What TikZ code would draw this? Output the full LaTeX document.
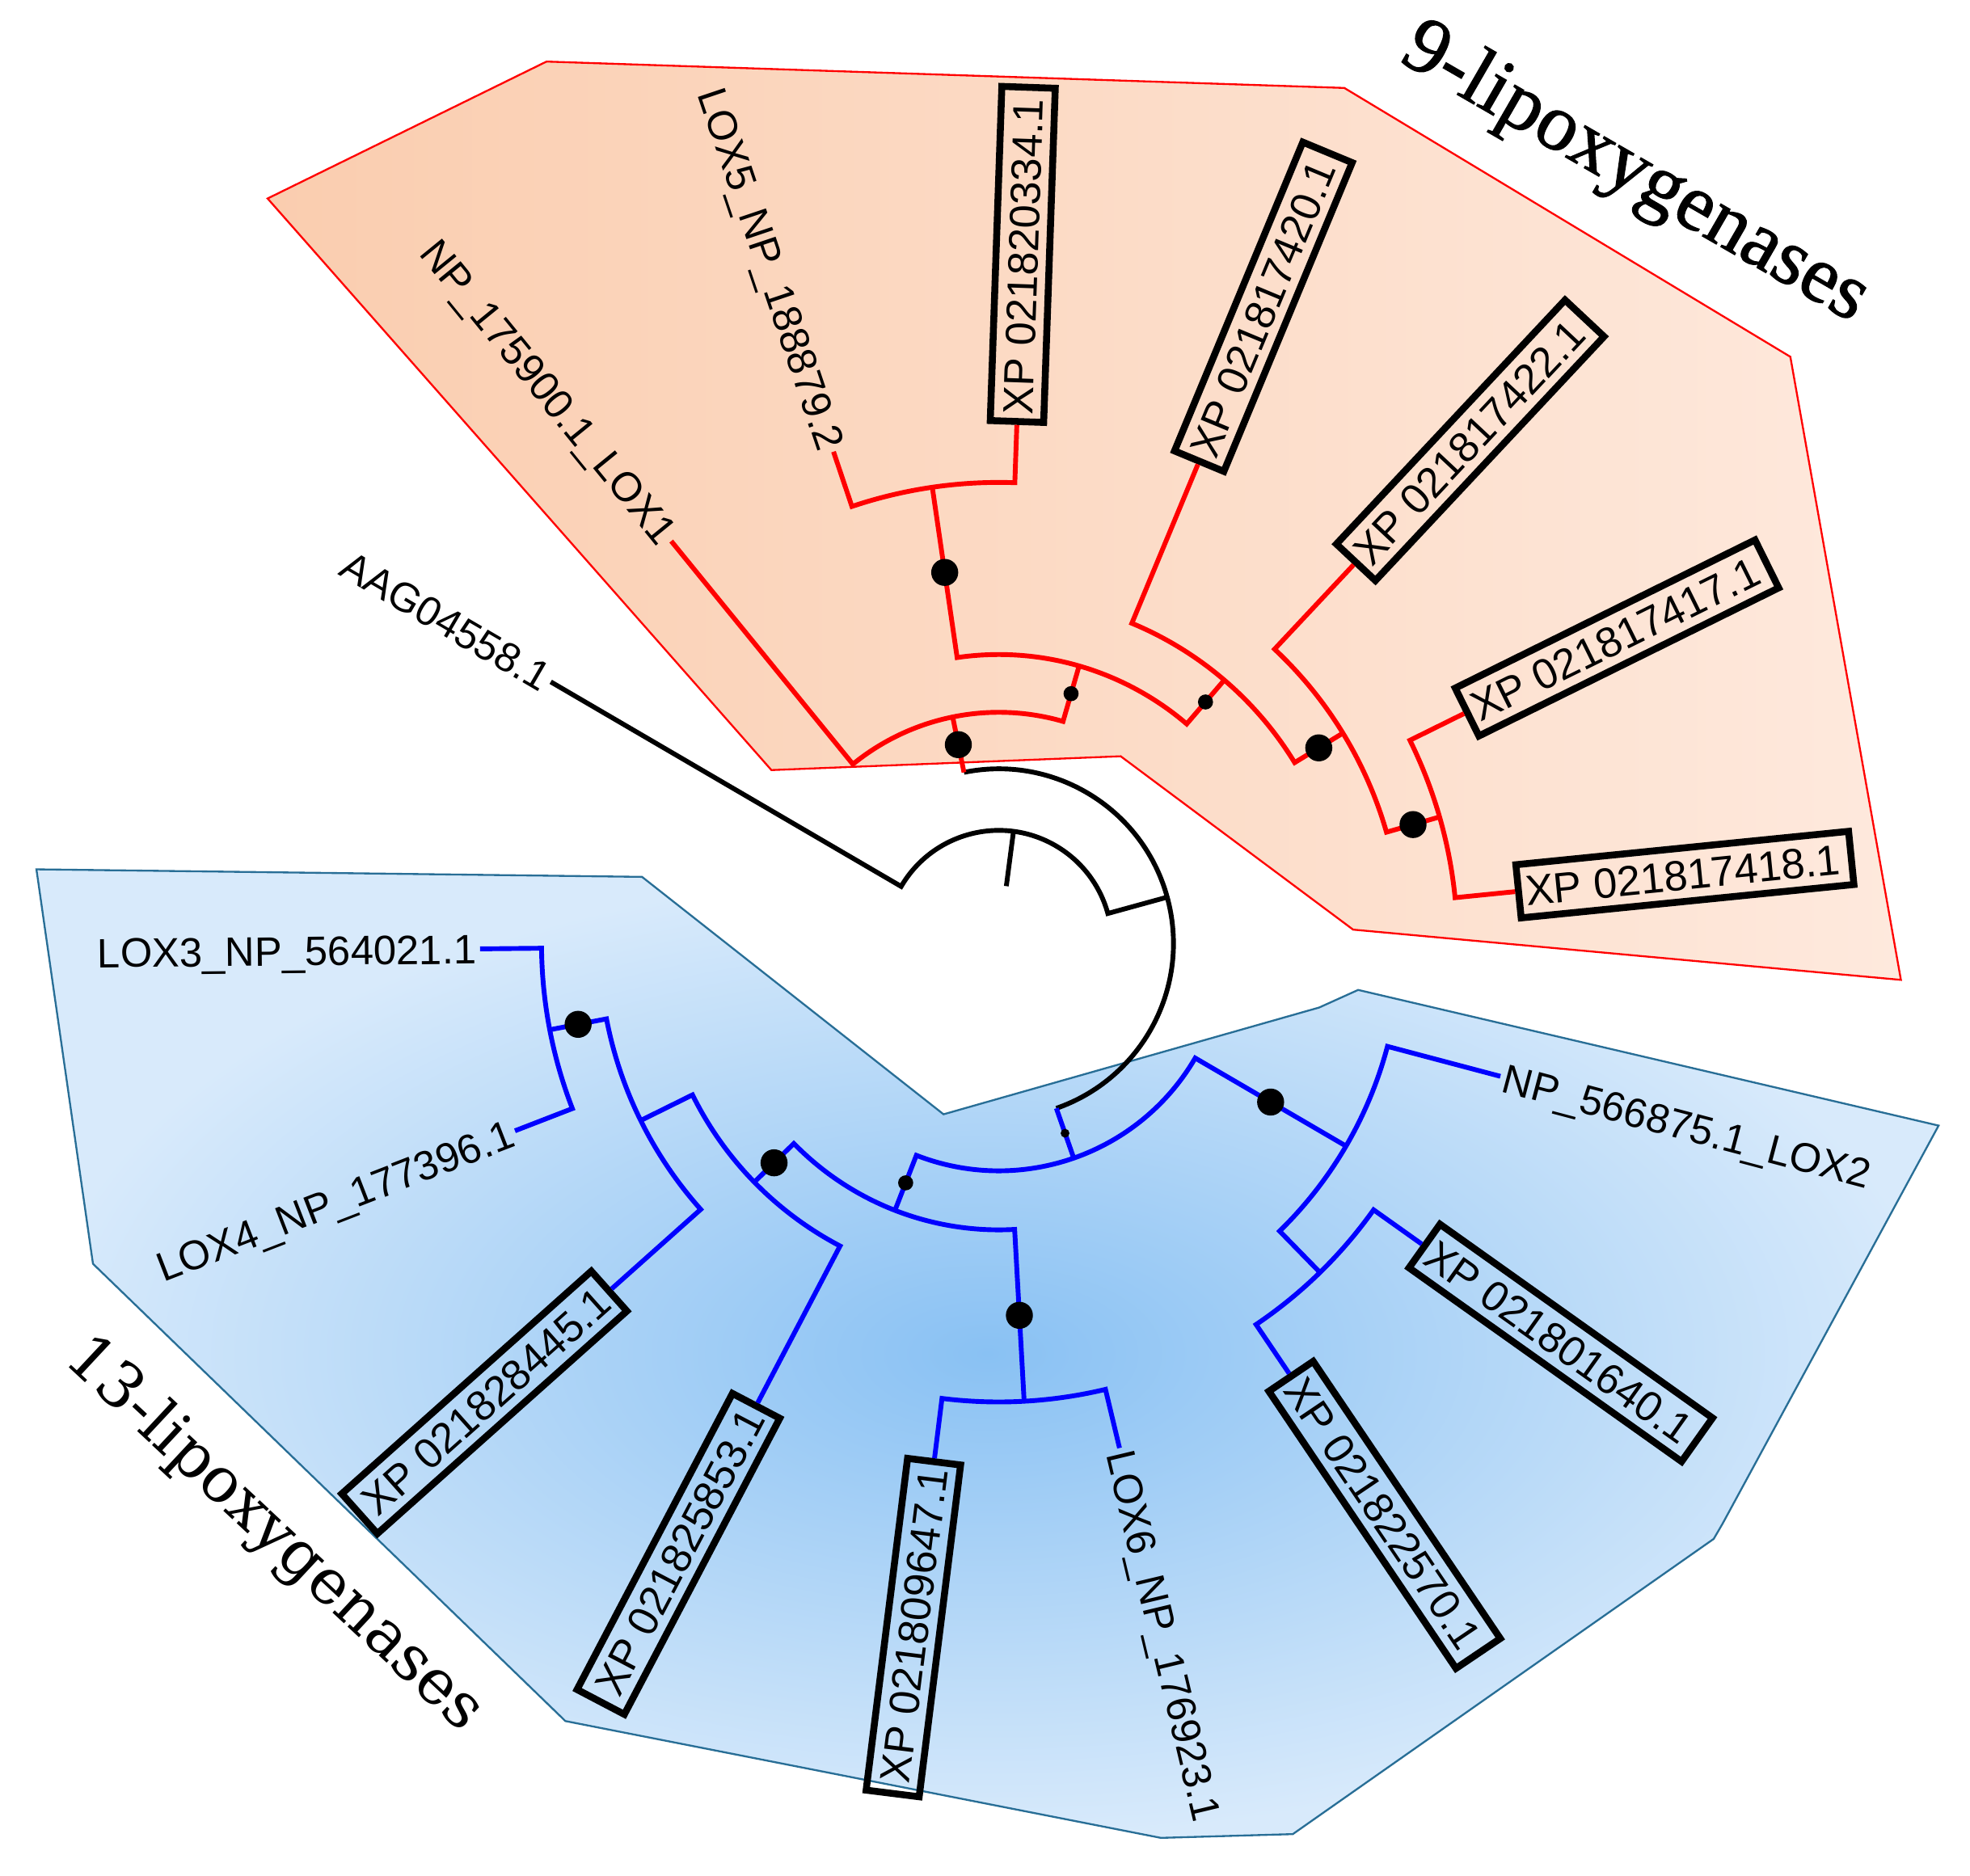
\documentclass[tikz,border=0pt]{standalone}
\usepackage{fontspec}
\newfontfamily\labfont{Liberation Sans}
\newfontfamily\tfa[FakeBold=1.2]{Liberation Serif}
\newfontfamily\tfb{DejaVu Serif}
\usetikzlibrary{calc}
\definecolor{redfillA}{RGB}{250,205,175}
\definecolor{redfillB}{RGB}{254,233,221}
\definecolor{bluein}{RGB}{137,193,243}
\definecolor{blueout}{RGB}{216,234,251}
\definecolor{blueedge}{RGB}{40,110,150}
\definecolor{treeblue}{RGB}{0,0,255}
\definecolor{treered}{RGB}{255,0,0}
\tikzset{
  br/.style={line width=0.38mm, line join=miter, line cap=butt},
  rbr/.style={br, draw=treered},
  bbr/.style={br, draw=treeblue},
  kbr/.style={br, draw=black},
  plainlab/.style={font=\labfont\fontsize{9.3}{11}\selectfont, inner xsep=0.6pt, inner ysep=0pt, text height=6.7pt, text depth=0pt, text=black},
  boxlab/.style={draw=black, line width=0.55mm, font=\labfont\fontsize{9.6}{11}\selectfont, inner xsep=1.6pt, inner ysep=2.6pt, text height=6.9pt, text depth=0pt, text=black},
  bigdot/.style={circle, fill=black, inner sep=0pt, minimum size=2.15mm},
  meddot/.style={circle, fill=black, inner sep=0pt, minimum size=1.2mm},
  tinydot/.style={circle, fill=black, inner sep=0pt, minimum size=0.7mm},
}
\begin{document}
\begin{tikzpicture}[x=0.1mm,y=-0.1mm]
\useasboundingbox (0,0) rectangle (1568,1493);
\fill[white] (0,0) rectangle (1568,1493);

% clade backgrounds
\path[draw=treered, line width=0.15mm, left color=redfillA, right color=redfillB]
  (213,158) -- (435,49) -- (1070,70) -- (1425,284) -- (1513,780) -- (1077,740) -- (892,602) -- (614,613) -- cycle;
\path[draw=blueedge, line width=0.15mm, inner color=bluein, outer color=blueout]
  (29,692) -- (511,698) -- (751,887) -- (1050,802) -- (1081,788) -- (1543,896) -- (1371,1213) -- (1364,1225) -- (1029,1460) -- (924,1463) -- (450,1370) -- (74,1006) -- cycle;

\node[font=\tfa\fontsize{18.3}{20}\selectfont, rotate=-30] (t9) at (1301,139) {9-lipoxygenases};
\node[font=\tfb\fontsize{14.2}{16}\selectfont, rotate=-43] (t13) at (218,1222) {13-lipoxygenases};

\begin{scope}[shift={(795,751)}]
% leaf labels
\node[plainlab, anchor=east, rotate=0.6]    (lox3)  at (179.40:413) {LOX3\_NP\_564021.1};
\node[plainlab, anchor=east, rotate=21.17]  (lox4)  at (158.83:413) {LOX4\_NP\_177396.1};
\node[boxlab,   anchor=east, rotate=41.74]  (xp445) at (138.26:413) {\kern1pt XP 021828445.1};
\node[boxlab,   anchor=east, rotate=62.31]  (xp853) at (117.69:413) {\kern1pt XP 021825853.1};
\node[boxlab,   anchor=east, rotate=82.88]  (xp647) at (97.12:413)  {\kern1pt XP 021809647.1};
\node[plainlab, anchor=west, rotate=-76.55] (lox6)  at (76.55:413)  {LOX6\_NP\_176923.1};
\node[boxlab,   anchor=west, rotate=-55.98] (xp570) at (55.98:413)  {XP 021822570.1\kern1pt};
\node[boxlab,   anchor=west, rotate=-35.41] (xp640) at (35.41:413)  {XP 021801640.1\kern1pt};
\node[plainlab, anchor=west, rotate=-14.84] (lox2)  at (14.84:413)  {NP\_566875.1\_LOX2};
\node[boxlab,   anchor=west, rotate=5.73]   (xp418) at (354.27:413) {XP 021817418.1\kern1pt};
\node[boxlab,   anchor=west, rotate=26.30]  (xp417) at (333.70:413) {XP 021817417.1\kern1pt};
\node[boxlab,   anchor=west, rotate=46.87]  (xp422) at (313.13:413) {XP 021817422.1\kern1pt};
\node[boxlab,   anchor=west, rotate=67.44]  (xp420) at (292.56:413) {XP 021817420.1\kern1pt};
\node[boxlab,   anchor=west, rotate=88.01]  (xp334) at (271.99:413) {XP 021820334.1\kern1pt};
\node[plainlab, anchor=east, rotate=-71.42] (lox5)  at (251.42:413) {LOX5\_NP\_188879.2};
\node[plainlab, anchor=east, rotate=-50.85] (lox1)  at (230.85:413) {NP\_175900.1\_LOX1};
\node[plainlab, anchor=east, rotate=-30.28] (aag)   at (210.28:413) {AAG04558.1};

% black backbone
\draw[kbr] (277.455:46) -- (277.455:90);
\draw[kbr] (aag.east) -- (210.28:90) arc[start angle=210.28, end angle=344.63, radius=90] -- (344.63:139);
\draw[kbr] (258.49:139) arc[start angle=258.49, end angle=430.765, radius=139];

% red clade
\draw[rbr] (258.49:139) -- (258.49:184);
\draw[rbr] (lox1.east) -- (230.85:184) arc[start angle=230.85, end angle=286.13, radius=184] -- (286.13:230);
\draw[rbr] (261.705:367) -- (261.705:230) arc[start angle=261.705, end angle=310.56, radius=230] -- (310.56:276);
\draw[rbr] (lox5.east) -- (251.42:367) arc[start angle=251.42, end angle=271.99, radius=367] -- (xp334.west);
\draw[rbr] (xp420.west) -- (292.56:276) arc[start angle=292.56, end angle=328.56, radius=276] -- (328.56:321);
\draw[rbr] (xp422.west) -- (313.13:321) arc[start angle=313.13, end angle=343.985, radius=321] -- (343.985:365);
\draw[rbr] (xp417.west) -- (333.70:365) arc[start angle=333.70, end angle=354.27, radius=365] -- (xp418.west);

% blue clade
\draw[bbr] (70.765:139) -- (70.765:181);
\draw[bbr] (30.27:320) -- (30.27:181) arc[start angle=30.27, end angle=111.26, radius=181] -- (111.26:228);
\draw[bbr] (lox2.west) -- (14.84:320) arc[start angle=14.84, end angle=45.695, radius=320] -- (45.695:366);
\draw[bbr] (xp640.west) -- (35.41:366) arc[start angle=35.41, end angle=55.98, radius=366] -- (xp570.west);
\draw[bbr] (86.835:365) -- (86.835:228) arc[start angle=86.835, end angle=135.69, radius=228] -- (135.69:272);
\draw[bbr] (lox6.west) -- (76.55:365) arc[start angle=76.55, end angle=97.12, radius=365] -- (xp647.east);
\draw[bbr] (xp853.east) -- (117.69:272) arc[start angle=117.69, end angle=153.69, radius=272] -- (153.69:318);
\draw[bbr] (xp445.east) -- (138.26:318) arc[start angle=138.26, end angle=169.115, radius=318] -- (169.115:364);
\draw[bbr] (lox4.east) -- (158.83:364) arc[start angle=158.83, end angle=179.40, radius=364] -- (lox3.east);

% support dots
\node[bigdot] (d1) at (258.49:161.5) {};
\node[meddot] (d2) at (286.13:207) {};
\node[bigdot] (d3) at (261.705:298.5) {};
\node[meddot] (d4) at (310.56:253) {};
\node[bigdot] (d5) at (328.56:298.5) {};
\node[bigdot] (d6) at (343.985:343) {};
\node[tinydot] (d7) at (70.765:160) {};
\node[bigdot] (d8) at (30.27:250.5) {};
\node[meddot] (d9) at (111.26:204.5) {};
\node[bigdot] (d10) at (86.835:296.5) {};
\node[bigdot] (d11) at (135.69:250) {};
\node[bigdot] (d12) at (169.115:341) {};
\end{scope}
\end{tikzpicture}
\end{document}
